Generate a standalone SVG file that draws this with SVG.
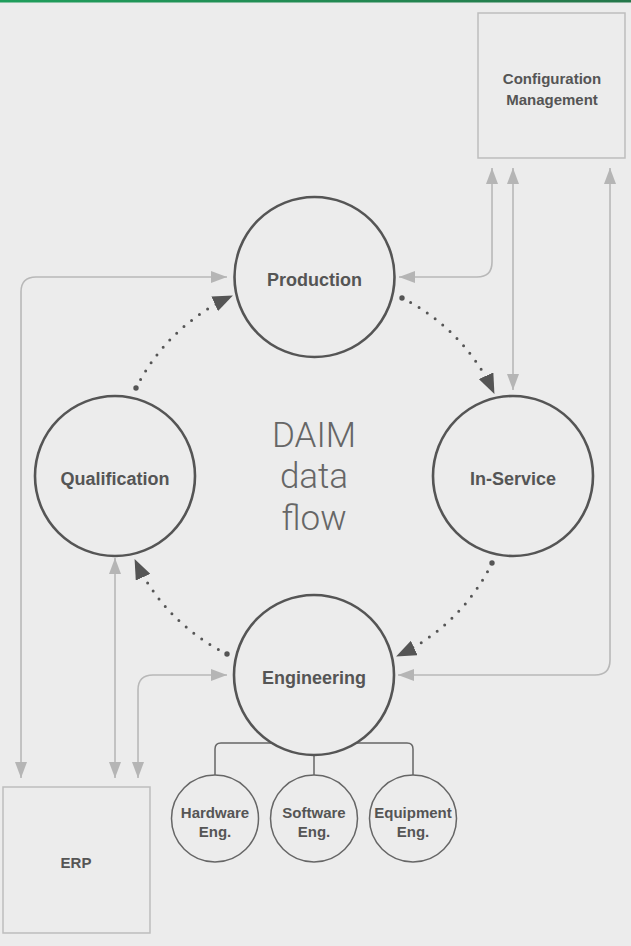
<svg xmlns="http://www.w3.org/2000/svg" width="631" height="946" viewBox="0 0 631 946">
  <defs>
    <linearGradient id="topbar" x1="0" y1="0" x2="1" y2="0">
      <stop offset="0" stop-color="#1f9e5c"/>
      <stop offset="1" stop-color="#25774a"/>
    </linearGradient>
    <marker id="ga" viewBox="0 0 16 12" refX="16" refY="6" markerWidth="16" markerHeight="12" markerUnits="userSpaceOnUse" orient="auto-start-reverse">
      <path d="M0,0 L16,6 L0,12 z" fill="#b5b5b5"/>
    </marker>
    <marker id="da" viewBox="0 0 20 16" refX="19" refY="8" markerWidth="20" markerHeight="16" markerUnits="userSpaceOnUse" orient="auto">
      <path d="M0,0 L20,8 L0,16 z" fill="#555"/>
    </marker>
    <marker id="dd" viewBox="0 0 6 6" refX="3" refY="3" markerWidth="6" markerHeight="6" markerUnits="userSpaceOnUse">
      <circle cx="3" cy="3" r="2.7" fill="#555"/>
    </marker>
    <style>
      .gray { fill: none; stroke: #b8b8b8; stroke-width: 1.6; }
      .dots { fill: none; stroke: #555; stroke-width: 3; stroke-linecap: round; stroke-dasharray: 0 9.8; }
      .tree { fill: none; stroke: #666; stroke-width: 1.5; }
      .box { fill: #ececec; stroke: #bdbdbd; stroke-width: 1.5; }
      .big { fill: #ececec; stroke: #555; stroke-width: 2.6; }
      .small { fill: #ececec; stroke: #666; stroke-width: 1.5; }
      .lbl { font-family: "Liberation Sans", Arial, sans-serif; font-weight: bold; fill: #555; text-anchor: middle; }
      .l18 { font-size: 18px; }
      .l15 { font-size: 15px; }
      .center { font-family: Roboto, "Liberation Sans", sans-serif; font-weight: 300; font-size: 35px; fill: #666; text-anchor: middle; }
    </style>
  </defs>
  <rect x="0" y="0" width="631" height="946" fill="#ececec"/>
  <rect x="0" y="0" width="631" height="2.5" fill="url(#topbar)"/>

  <g id="connectors">
    <path class="gray" d="M492 168 L492 262 Q492 277 477 277 L399 277" marker-start="url(#ga)" marker-end="url(#ga)"/>
    <path class="gray" d="M513 168 L513 390" marker-start="url(#ga)" marker-end="url(#ga)"/>
    <path class="gray" d="M610 168 L610 660 Q610 675 595 675 L398 675" marker-start="url(#ga)" marker-end="url(#ga)"/>
    <path class="gray" d="M227 277 L36 277 Q21 277 21 292 L21 778" marker-start="url(#ga)" marker-end="url(#ga)"/>
    <path class="gray" d="M115 558 L115 778" marker-start="url(#ga)" marker-end="url(#ga)"/>
    <path class="gray" d="M227 675 L153 675 Q138 675 138 690 L138 778" marker-start="url(#ga)" marker-end="url(#ga)"/>
    <path class="dots" d="M402 298 A199 199 0 0 1 494 393" marker-start="url(#dd)" marker-end="url(#da)"/>
    <path class="dots" d="M492 563 A199 199 0 0 1 397 656" marker-start="url(#dd)" marker-end="url(#da)"/>
    <path class="dots" d="M227 654 A199 199 0 0 1 135 560" marker-start="url(#dd)" marker-end="url(#da)"/>
    <path class="dots" d="M136 388 A199 199 0 0 1 232 296" marker-start="url(#dd)" marker-end="url(#da)"/>
    <path class="tree" d="M215 775 L215 749 Q215 743 221 743 L407 743 Q413 743 413 749 L413 775 M314 743 L314 775"/>
  </g>

  <g id="config-management">
    <rect class="box" x="478" y="13" width="147" height="145"/>
    <text class="lbl l15" x="552" y="84">Configuration</text>
    <text class="lbl l15" x="552" y="105">Management</text>
  </g>
  <g id="erp">
    <rect class="box" x="3" y="787" width="147" height="146"/>
    <text class="lbl l15" x="76" y="868">ERP</text>
  </g>
  <g id="production">
    <circle class="big" cx="314.5" cy="277" r="80"/>
    <text class="lbl l18" x="314.5" y="286">Production</text>
  </g>
  <g id="qualification">
    <circle class="big" cx="115" cy="476" r="80"/>
    <text class="lbl l18" x="115" y="485">Qualification</text>
  </g>
  <g id="in-service">
    <circle class="big" cx="513" cy="476" r="80"/>
    <text class="lbl l18" x="513" y="485">In-Service</text>
  </g>
  <g id="engineering">
    <circle class="big" cx="314" cy="675" r="80"/>
    <text class="lbl l18" x="314" y="684">Engineering</text>
  </g>
  <g id="hardware-eng">
    <circle class="small" cx="215" cy="818.5" r="43.5"/>
    <text class="lbl l15" x="215" y="818">Hardware</text>
    <text class="lbl l15" x="215" y="837">Eng.</text>
  </g>
  <g id="software-eng">
    <circle class="small" cx="314" cy="818.5" r="43.5"/>
    <text class="lbl l15" x="314" y="818">Software</text>
    <text class="lbl l15" x="314" y="837">Eng.</text>
  </g>
  <g id="equipment-eng">
    <circle class="small" cx="413" cy="818.5" r="43.5"/>
    <text class="lbl l15" x="413" y="818">Equipment</text>
    <text class="lbl l15" x="413" y="837">Eng.</text>
  </g>
  <g id="title">
    <text class="center" x="314" y="447">DAIM</text>
    <text class="center" x="314" y="488">data</text>
    <text class="center" x="314" y="530">flow</text>
  </g>
</svg>
